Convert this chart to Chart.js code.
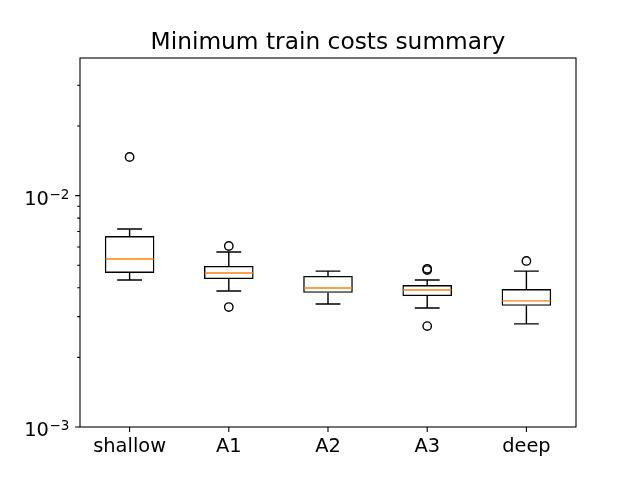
<!DOCTYPE html>
<html>
<head>
<meta charset="utf-8">
<script src="https://cdn.jsdelivr.net/npm/chart.js@4/dist/chart.umd.min.js"></script>
<style>
  html, body { margin: 0; padding: 0; background: #fff; }
  #c { display: block; }
</style>
</head>
<body>
<canvas id="c" width="640" height="480"></canvas>
<script>
const categories  = ['shallow', 'A1', 'A2', 'A3', 'deep'];
const whiskerLow  = [0.00432, 0.00387, 0.00340, 0.00327, 0.00279];
const q1          = [0.00463, 0.00436, 0.00380, 0.00368, 0.00334];
const medians     = [0.00532, 0.00463, 0.00399, 0.00391, 0.00351];
const q3          = [0.00669, 0.00497, 0.00450, 0.00411, 0.00395];
const whiskerHigh = [0.00718, 0.00571, 0.00472, 0.00432, 0.00472];
const outliers    = [[0.01469], [0.00606, 0.00330], [], [0.00477, 0.00483, 0.00273], [0.00522]];
const yMin = 0.001;
const yMax = 0.03936;
const yMajorExponents = [-3, -2];
const titleText = 'Minimum train costs summary';

const FONT = 'DejaVu Sans';
Chart.defaults.color = '#000';
Chart.defaults.font.family = FONT;

const boxData = categories.map((c, i) => [q1[i], q3[i]]);
const flierData = [];
outliers.forEach((arr, i) => arr.forEach(v => flierData.push({ x: categories[i], y: v })));

const LW = 1.4;

const boxPlugin = {
  id: 'boxExtras',
  afterDatasetsDraw(chart) {
    const ctx = chart.ctx;
    const xs = chart.scales.x, ys = chart.scales.y;
    const meta = chart.getDatasetMeta(0);
    ctx.save();
    ctx.lineWidth = LW;
    categories.forEach((c, i) => {
      const x = xs.getPixelForValue(i);
      const bw = meta.data[i].width;
      const cap = bw / 4;
      const yq1 = ys.getPixelForValue(q1[i]);
      const yq3 = ys.getPixelForValue(q3[i]);
      const ylo = ys.getPixelForValue(whiskerLow[i]);
      const yhi = ys.getPixelForValue(whiskerHigh[i]);
      const ymed = ys.getPixelForValue(medians[i]);
      ctx.strokeStyle = '#000';
      ctx.beginPath();
      ctx.moveTo(x, yq3); ctx.lineTo(x, yhi);
      ctx.moveTo(x - cap, yhi); ctx.lineTo(x + cap, yhi);
      ctx.moveTo(x, yq1); ctx.lineTo(x, ylo);
      ctx.moveTo(x - cap, ylo); ctx.lineTo(x + cap, ylo);
      ctx.stroke();
      ctx.strokeStyle = '#ff7f0e';
      ctx.beginPath();
      ctx.moveTo(x - bw / 2 + LW / 2, ymed); ctx.lineTo(x + bw / 2 - LW / 2, ymed);
      ctx.stroke();
    });
    ctx.restore();
  },
  afterDraw(chart) {
    const ctx = chart.ctx;
    const a = chart.chartArea;
    const xs = chart.scales.x, ys = chart.scales.y;
    ctx.save();
    ctx.strokeStyle = '#000';
    ctx.lineWidth = 1.1;
    ctx.strokeRect(a.left, a.top, a.right - a.left, a.bottom - a.top);
    ctx.beginPath();
    categories.forEach((c, i) => {
      const x = xs.getPixelForValue(i);
      ctx.moveTo(x, a.bottom); ctx.lineTo(x, a.bottom + 4.9);
    });
    for (let e = -3; e <= -2; e++) {
      for (let m = 1; m <= 9; m++) {
        const v = m * Math.pow(10, e);
        if (v < yMin - 1e-12 || v > yMax) continue;
        const y = ys.getPixelForValue(v);
        const len = m === 1 ? 4.9 : 2.8;
        ctx.moveTo(a.left, y); ctx.lineTo(a.left - len, y);
      }
    }
    ctx.stroke();

    // y tick labels in mathtext style: 10 with superscript exponent
    ctx.fillStyle = '#000';
    ctx.textBaseline = 'alphabetic';
    yMajorExponents.forEach(e => {
      const y = ys.getPixelForValue(Math.pow(10, e));
      const right = a.left - 10.5;
      ctx.font = '13.6px "' + FONT + '"';
      const sup = '\u2212' + Math.abs(e);
      const supW = ctx.measureText(sup).width;
      ctx.textAlign = 'left';
      ctx.fillText(sup, right - supW, y + 3);
      ctx.font = '19.4px "' + FONT + '"';
      ctx.textAlign = 'right';
      ctx.fillText('10', right - supW - 0.5, y + 9.3);
    });

    // title
    ctx.font = '23.3px "' + FONT + '"';
    ctx.textAlign = 'center';
    ctx.textBaseline = 'alphabetic';
    ctx.fillText(titleText, (a.left + a.right) / 2, 49.3);
    ctx.restore();
  }
};

new Chart(document.getElementById('c'), {
  type: 'bar',
  data: {
    labels: categories,
    datasets: [
      {
        type: 'bar',
        data: boxData,
        backgroundColor: 'rgba(0,0,0,0)',
        borderColor: '#000',
        borderWidth: LW,
        borderSkipped: false,
        barPercentage: 0.5,
        categoryPercentage: 1.0,
        order: 2
      },
      {
        type: 'scatter',
        data: flierData,
        pointStyle: 'circle',
        pointRadius: 4.2,
        pointBorderWidth: LW,
        pointBorderColor: '#000',
        pointBackgroundColor: 'rgba(0,0,0,0)',
        showLine: false,
        order: 1
      }
    ]
  },
  options: {
    responsive: false,
    devicePixelRatio: 1,
    animation: false,
    layout: { padding: { top: 58, right: 64, left: 0, bottom: 0 } },
    plugins: {
      legend: { display: false },
      tooltip: { enabled: false },
      title: { display: false }
    },
    scales: {
      x: {
        type: 'category',
        offset: true,
        grid: { display: false },
        border: { display: false },
        ticks: { font: { family: FONT, size: 19.4 }, color: '#000', padding: 0, maxRotation: 0 },
        afterFit(s) { s.height = 53; }
      },
      y: {
        type: 'logarithmic',
        min: yMin,
        max: yMax,
        grid: { display: false },
        border: { display: false },
        ticks: { autoSkip: false, callback() { return ''; } },
        afterFit(s) { s.width = 80; }
      }
    }
  },
  plugins: [boxPlugin]
});
</script>
</body>
</html>
